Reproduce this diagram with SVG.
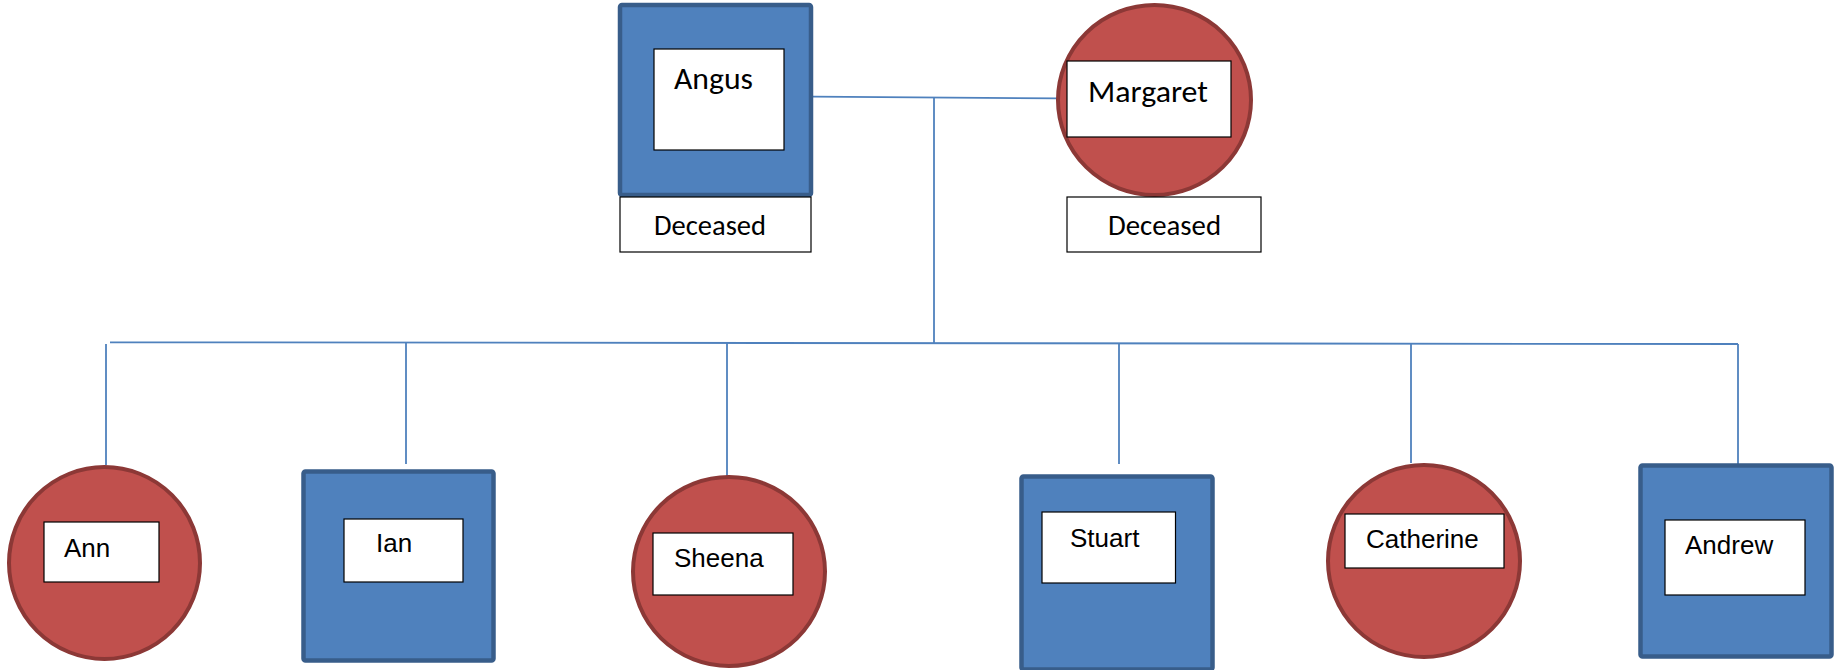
<svg xmlns="http://www.w3.org/2000/svg" width="1837" height="670" viewBox="0 0 1837 670">
<style>
.male{fill:#4f81bd;stroke:#385d8a;stroke-width:4.5}
.female{fill:#c0504d;stroke:#8c3836;stroke-width:4}
.box{fill:#ffffff;stroke:#000000;stroke-width:1.2}
.conn{stroke:#4f81bd;stroke-width:1.8;fill:none}
.kid{font-family:"Liberation Sans",Arial,sans-serif;font-size:26px;fill:#000}
.par{font-family:Carlito,Calibri,Lato,"Liberation Sans",sans-serif;font-size:30px;fill:#000}
.dec{font-family:Carlito,Calibri,Lato,"Liberation Sans",sans-serif;font-size:28px;fill:#000}
</style>
<rect width="1837" height="670" fill="#ffffff"/>
<g id="connectors">
<line class="conn" x1="813" y1="96.7" x2="1058" y2="98.3"/>
<line class="conn" x1="934" y1="97.5" x2="934" y2="343"/>
<line class="conn" x1="110" y1="342.3" x2="1738" y2="344"/>
<line class="conn" x1="106" y1="344" x2="106" y2="465"/>
<line class="conn" x1="406" y1="343" x2="406" y2="464"/>
<line class="conn" x1="727" y1="343" x2="727" y2="476"/>
<line class="conn" x1="1119" y1="343" x2="1119" y2="464"/>
<line class="conn" x1="1411" y1="343" x2="1411" y2="463"/>
<line class="conn" x1="1738" y1="344" x2="1738" y2="467"/>
</g>
<g id="angus">
<rect class="male" x="620" y="5" width="191" height="190" rx="2"/>
<rect class="box" x="654" y="49" width="130" height="101"/>
<text class="par" x="674" y="89" textLength="79" lengthAdjust="spacingAndGlyphs">Angus</text>
<rect class="box" x="620" y="197" width="191" height="55"/>
<text class="dec" x="654" y="235" textLength="112" lengthAdjust="spacingAndGlyphs">Deceased</text>
</g>
<g id="margaret">
<ellipse class="female" cx="1154.5" cy="100" rx="96.5" ry="95"/>
<rect class="box" x="1067" y="61" width="164" height="76"/>
<text class="par" x="1088" y="102" textLength="120" lengthAdjust="spacingAndGlyphs">Margaret</text>
<rect class="box" x="1067" y="197" width="194" height="55"/>
<text class="dec" x="1108" y="235" textLength="113" lengthAdjust="spacingAndGlyphs">Deceased</text>
</g>
<g id="ann">
<ellipse class="female" cx="104.5" cy="563" rx="95.5" ry="96"/>
<rect class="box" x="44" y="522" width="115" height="60"/>
<text class="kid" x="64" y="557">Ann</text>
</g>
<g id="ian">
<rect class="male" x="303.5" y="471.5" width="190" height="189" rx="2"/>
<rect class="box" x="344" y="519" width="119" height="63"/>
<text class="kid" x="376" y="552">Ian</text>
</g>
<g id="sheena">
<ellipse class="female" cx="729" cy="571.5" rx="96" ry="94.5"/>
<rect class="box" x="653" y="533" width="140" height="62"/>
<text class="kid" x="674" y="567">Sheena</text>
</g>
<g id="stuart">
<rect class="male" x="1021.5" y="476.5" width="191" height="193" rx="2"/>
<rect class="box" x="1042" y="512" width="133.5" height="71"/>
<text class="kid" x="1070" y="547">Stuart</text>
</g>
<g id="catherine">
<ellipse class="female" cx="1424" cy="561" rx="96" ry="96"/>
<rect class="box" x="1345" y="514" width="159" height="54"/>
<text class="kid" x="1366" y="548">Catherine</text>
</g>
<g id="andrew">
<rect class="male" x="1640.5" y="465.5" width="191" height="191" rx="2"/>
<rect class="box" x="1665" y="520" width="140" height="75"/>
<text class="kid" x="1685" y="554">Andrew</text>
</g>
</svg>
